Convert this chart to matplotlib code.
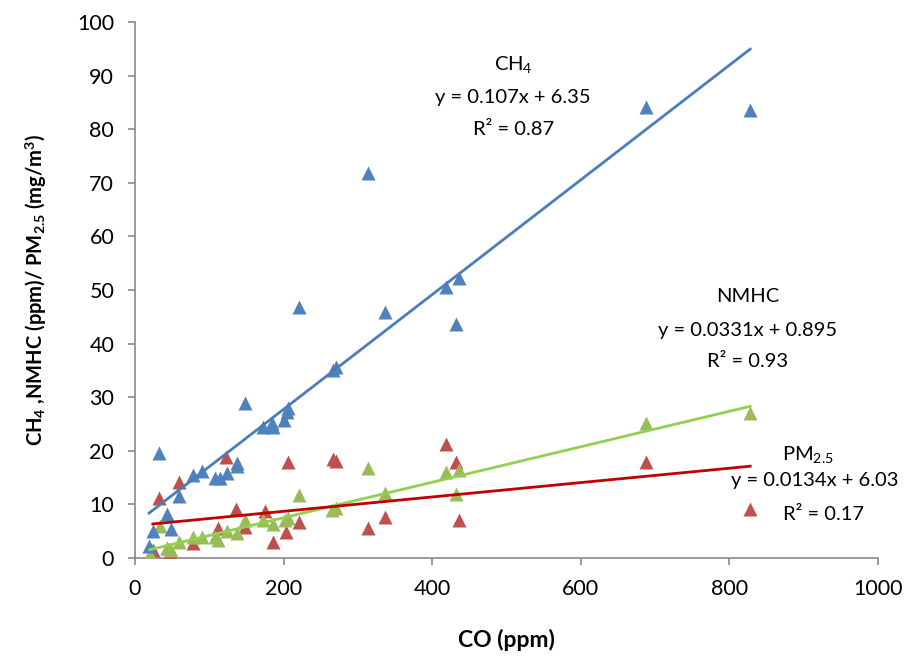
import matplotlib
matplotlib.use('Agg')
import matplotlib.pyplot as plt
import numpy as np

plt.rcParams['font.family'] = ['Lato', 'DejaVu Sans']
plt.rcParams['mathtext.fontset'] = 'custom'
plt.rcParams['mathtext.rm'] = 'Lato'
plt.rcParams['mathtext.it'] = 'Lato:italic'
plt.rcParams['mathtext.bf'] = 'Lato:bold'

# CH4 (ppm) vs CO (ppm)
ch4_co = [19, 24, 32, 43, 48, 59, 78, 90, 108, 114, 124, 137, 137, 148, 172, 184,
          186, 200, 204, 206, 221, 266, 270, 314, 336, 418, 432, 436, 688, 828]
ch4 = [2.3, 5.0, 19.6, 8.2, 5.4, 11.6, 15.5, 16.3, 14.9, 14.9, 15.8, 17.7, 17.1, 28.9, 24.4, 25.2,
       24.4, 25.7, 27.2, 28.0, 46.8, 35.1, 35.6, 71.8, 45.9, 50.6, 43.6, 52.2, 84.1, 83.6]

# NMHC (ppm) vs CO (ppm)
nmhc_co = [20, 34, 43, 48, 59, 78, 90, 108, 112, 124, 137, 148, 172, 186, 202, 206,
           221, 265, 270, 314, 336, 418, 432, 436, 688, 828]
nmhc = [0.7, 6.0, 1.9, 1.5, 2.9, 3.9, 3.9, 3.9, 3.4, 5.0, 4.6, 7.0, 7.0, 6.4, 7.0, 7.4,
        11.8, 9.0, 9.3, 16.8, 12.2, 16.0, 12.0, 16.4, 25.2, 27.0]

# PM2.5 (mg/m3) vs CO (ppm)
pm_co = [24, 32, 43, 47, 59, 78, 112, 122, 136, 148, 175, 186, 203, 206, 221, 266,
         270, 314, 336, 418, 432, 436, 688, 828]
pm25 = [1.5, 11.2, 1.8, 1.1, 14.2, 2.8, 5.6, 18.8, 9.2, 5.8, 8.8, 3.0, 4.9, 17.9, 6.7, 18.5,
        18.1, 5.6, 7.6, 21.3, 17.9, 7.1, 17.9, 9.1]

# trendline coefficients (slope, intercept)
fit_ch4 = (0.107, 6.35)
fit_nmhc = (0.0331, 0.895)
fit_pm = (0.0134, 6.03)

fig = plt.figure(figsize=(9.24, 6.57), dpi=100)
ax = fig.add_axes([135/924, 1-558/657, (878-135)/924, (558-22)/657])

ax.plot(pm_co, pm25, '^', color='#C0504D', ms=9.5, mec='none', zorder=3)
ax.plot(nmhc_co, nmhc, '^', color='#9BBB59', ms=9.5, mec='none', zorder=3)
ax.plot(ch4_co, ch4, '^', color='#4F81BD', ms=9.5, mec='none', zorder=3)

# linear trendlines over the data range
for xs, (m, b), c in [(ch4_co, fit_ch4, '#4A7EBB'), (nmhc_co, fit_nmhc, '#92D050'),
                      (pm_co, fit_pm, '#C00000')]:
    xx = np.array([min(xs), max(xs)])
    ax.plot(xx, m*xx + b, color=c, lw=2, zorder=4)

ax.set_xlim(0, 1000)
ax.set_ylim(0, 100)
ax.set_xticks(range(0, 1001, 200))
ax.set_yticks(range(0, 101, 10))
for s in ['top', 'right']:
    ax.spines[s].set_visible(False)
for s in ['left', 'bottom']:
    ax.spines[s].set_color('#898989')
    ax.spines[s].set_linewidth(1.2)
ax.tick_params(colors='#898989', length=5, width=1.2, labelsize=15.5, labelcolor='black')
ax.tick_params(axis='x', pad=10)
ax.tick_params(axis='y', pad=10)

ax.set_xlabel('CO (ppm)', fontsize=16.5, fontweight='bold', labelpad=22)
ax.set_ylabel('CH$_\\mathbf{4}$ ,NMHC (ppm)/ PM$_\\mathbf{2.5}$ (mg/m$^\\mathbf{3}$)',
              fontsize=14.5, fontweight='bold', labelpad=20)

kw = dict(fontsize=14.5, ha='center', va='center', clip_on=False)
ax.text(509, 92, 'CH$_4$', **kw)
ax.text(509, 86, 'y = 0.107x + 6.35', **kw)
ax.text(509, 80, 'R² = 0.87', **kw)
ax.text(825, 48.7, 'NMHC', **kw)
ax.text(825, 42.5, 'y = 0.0331x + 0.895', **kw)
ax.text(825, 36.6, 'R² = 0.93', **kw)
ax.text(906, 19.4, 'PM$_{2.5}$', **kw)
ax.text(915, 14.4, 'y = 0.0134x + 6.03', **kw)
ax.text(926, 8.2, 'R² = 0.17', **kw)

fig.savefig('out.png', dpi=100)
